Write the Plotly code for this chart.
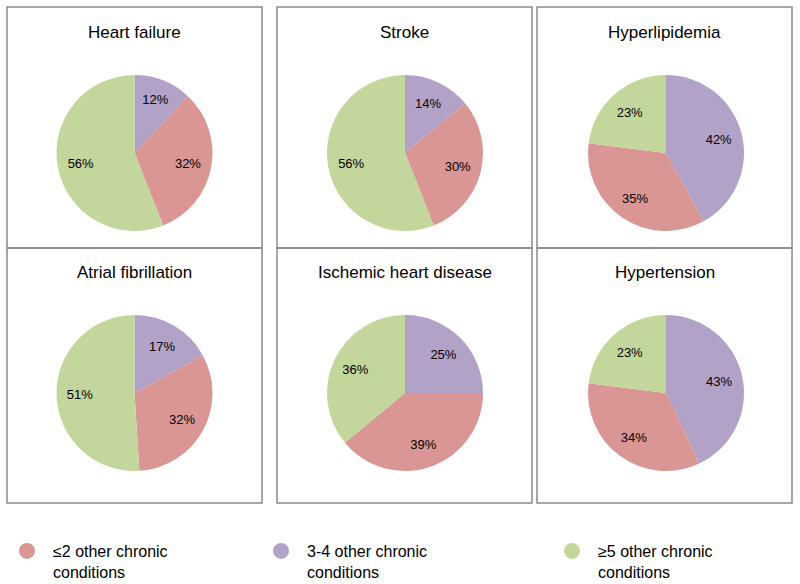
import plotly.graph_objects as go

# ---- data ----
titles = ["Heart failure", "Stroke", "Hyperlipidemia",
          "Atrial fibrillation", "Ischemic heart disease", "Hypertension"]
# slice order (clockwise from 12 o'clock): 3-4, <=2, >=5
slice_names = ["3-4 other chronic conditions", "≤2 other chronic conditions", "≥5 other chronic conditions"]
v_heart_failure = [12, 32, 56]
v_stroke = [14, 30, 56]
v_hyperlipidemia = [42, 35, 23]
v_atrial_fib = [17, 32, 51]
v_ischemic = [25, 39, 36]
v_hypertension = [43, 34, 23]
all_values = [v_heart_failure, v_stroke, v_hyperlipidemia, v_atrial_fib, v_ischemic, v_hypertension]

legend_labels = ["≤2 other chronic<br>conditions", "3-4 other chronic<br>conditions", "≥5 other chronic<br>conditions"]

# ---- style ----
C_RED, C_PURPLE, C_GREEN = "#D99694", "#B3A2C7", "#C3D69B"
slice_colors = [C_PURPLE, C_RED, C_GREEN]
legend_colors = [C_RED, C_PURPLE, C_GREEN]

W, H = 800, 584
FONT = "Liberation Sans, Arial, sans-serif"

# layout positions in window pixels
box_cols = [(7, 262), (277, 532), (537, 792)]
box_rows = [(7, 248), (248, 503)]
pie_cx = [134.5, 405, 666]
pie_cy = [153, 393]
title_y = [32, 272]
R = 78

def px(x):
    return x / W

def py(y):
    return 1 - y / H

fig = go.Figure()

for i, (t, vals) in enumerate(zip(titles, all_values)):
    r, c = divmod(i, 3)
    cx, cy = pie_cx[c], pie_cy[r]
    dom = dict(x=[px(cx - R), px(cx + R)], y=[py(cy + R), py(cy - R)])
    # filled pie
    fig.add_trace(go.Pie(
        values=vals, labels=slice_names, sort=False,
        direction="clockwise", rotation=0,
        marker=dict(colors=slice_colors, line=dict(width=0)),
        textinfo="none", hoverinfo="label+value",
        showlegend=False, domain=dom,
    ))
    # transparent ring carrying the percentage labels (places them at ~0.7 radius)
    fig.add_trace(go.Pie(
        values=vals, labels=slice_names, sort=False,
        direction="clockwise", rotation=0, hole=0.4,
        marker=dict(colors=["rgba(0,0,0,0)"] * 3, line=dict(width=0)),
        texttemplate="%{value}%",
        textposition="inside",
        insidetextorientation="horizontal",
        textfont=dict(family=FONT, size=13, color="#000000"),
        hoverinfo="skip",
        showlegend=False, domain=dom,
    ))
    fig.add_annotation(text=t, x=px((box_cols[c][0] + box_cols[c][1]) / 2), y=py(title_y[r]),
                       xref="paper", yref="paper", showarrow=False,
                       xanchor="center", yanchor="middle",
                       font=dict(family=FONT, size=17, color="#000000"))

# boxes
for (y0, y1) in box_rows:
    for (x0, x1) in box_cols:
        fig.add_shape(type="rect", xref="paper", yref="paper",
                      x0=px(x0), x1=px(x1), y0=py(y1), y1=py(y0),
                      line=dict(color="#8a8a8a", width=1.5), fillcolor="rgba(0,0,0,0)")

# legend entries
legend_ids = ["legend", "legend2", "legend3"]
legend_left = [1, 255, 546]   # px of legend box left edge
for lab, col, lid in zip(legend_labels, legend_colors, legend_ids):
    fig.add_trace(go.Scatter(x=[None], y=[None], mode="markers", name=lab,
                             marker=dict(color=col, size=17, symbol="circle"),
                             legend=lid, showlegend=True, hoverinfo="skip"))

layout_legends = {}
for lid, lx in zip(legend_ids, legend_left):
    layout_legends[lid] = dict(x=px(lx), y=py(534), xanchor="left", yanchor="top",
                               xref="paper", yref="paper",
                               font=dict(family=FONT, size=16, color="#000000"),
                               itemwidth=42, valign="top",
                               bgcolor="rgba(0,0,0,0)", borderwidth=0)

fig.update_layout(
    width=W, height=H,
    margin=dict(l=0, r=0, t=0, b=0, autoexpand=False),
    paper_bgcolor="#ffffff", plot_bgcolor="rgba(0,0,0,0)",
    xaxis=dict(visible=False), yaxis=dict(visible=False),
    **layout_legends,
)

fig.write_html("out.html", config={"displayModeBar": False},
               post_script="document.body.style.margin='0';")
